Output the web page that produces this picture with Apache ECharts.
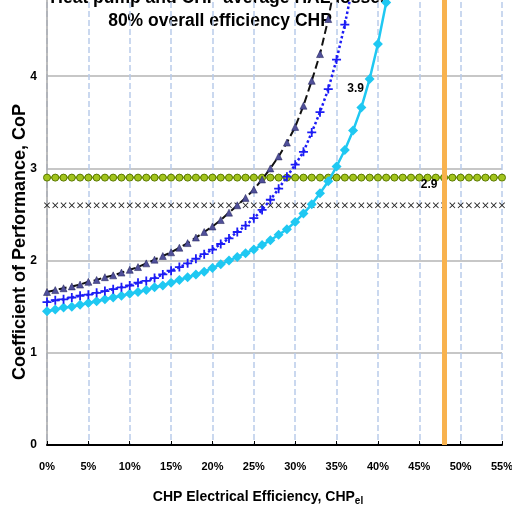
<!DOCTYPE html>
<html>
<head>
<meta charset="utf-8">
<script src="https://cdn.jsdelivr.net/npm/echarts@6/dist/echarts.min.js"></script>
<style>
  html, body { margin: 0; padding: 0; background: #fff; }
  #main { width: 512px; height: 512px; }
</style>
</head>
<body>
<div id="main"></div>
<script>
// CHP electrical efficiency, % (1% steps)
var effPct = [0, 1, 2, 3, 4, 5, 6, 7, 8, 9, 10, 11, 12, 13, 14, 15, 16, 17, 18, 19, 20,
  21, 22, 23, 24, 25, 26, 27, 28, 29, 30, 31, 32, 33, 34, 35, 36, 37, 38, 39, 40, 41, 42,
  43, 44, 45, 46, 47, 48, 49, 50, 51, 52, 53, 54, 55];

// CoP curves
var copNavy = [1.66, 1.68, 1.70, 1.72, 1.74, 1.77, 1.79, 1.82, 1.84, 1.87, 1.90, 1.93, 1.97, 2.01,
  2.05, 2.09, 2.14, 2.19, 2.25, 2.31, 2.37, 2.44, 2.52, 2.60, 2.68, 2.77, 2.88, 3.00, 3.13, 3.28,
  3.45, 3.68, 3.95, 4.24, 4.62, 5.10];
var copBlue = [1.55, 1.57, 1.58, 1.60, 1.62, 1.63, 1.65, 1.67, 1.69, 1.71, 1.73, 1.76, 1.78, 1.81,
  1.85, 1.89, 1.93, 1.97, 2.02, 2.07, 2.12, 2.18, 2.24, 2.31, 2.38, 2.46, 2.55, 2.66, 2.78, 2.91,
  3.04, 3.18, 3.39, 3.61, 3.86, 4.18, 4.56, 5.00];
var copCyan = [1.45, 1.47, 1.49, 1.50, 1.52, 1.54, 1.56, 1.58, 1.60, 1.62, 1.64, 1.66, 1.68, 1.71,
  1.73, 1.76, 1.79, 1.82, 1.85, 1.88, 1.92, 1.96, 2.00, 2.04, 2.08, 2.12, 2.17, 2.22, 2.28, 2.34,
  2.42, 2.51, 2.61, 2.73, 2.86, 3.02, 3.20, 3.41, 3.66, 3.97, 4.35, 4.80, 5.30];

// flat reference levels
var copGreen = 2.9;
var copCross = 2.6;
var orangeEff = 48;

function pairs(ys) {
  var res = [];
  for (var i = 0; i < ys.length; i++) res.push([effPct[i], ys[i]]);
  return res;
}
function flat(v) {
  var res = [];
  for (var i = 0; i < effPct.length; i++) res.push([effPct[i], v]);
  return res;
}

var plusPath = 'path://M4,0H6V4H10V6H6V10H4V6H0V4H4Z';
var crossPath = 'path://M0,1L1,0L5,4L9,0L10,1L6,5L10,9L9,10L5,6L1,10L0,9L4,5Z';
var boldFont = '"Liberation Sans", Arial, sans-serif';

var chart = echarts.init(document.getElementById('main'));
var option = {
  animation: false,
  backgroundColor: '#fff',
  textStyle: { fontFamily: boldFont },
  grid: { left: 47, right: 10, top: -16, bottom: 67, outerBoundsMode: 'none', containLabel: false },
  graphic: [
    {
      type: 'text', x: 220, y: -13,
      style: {
        text: 'Heat pump and CHP average HAL losses\n80% overall efficiency CHP',
        fontSize: 17.5, fontWeight: 'bold', fontFamily: boldFont, lineHeight: 23,
        align: 'center', fill: '#000'
      }
    },
    {
      type: 'text', x: 20, y: 242, rotation: Math.PI / 2,
      style: {
        text: 'Coefficient of Performance, CoP',
        fontSize: 18, fontWeight: 'bold', fontFamily: boldFont,
        align: 'center', verticalAlign: 'middle', fill: '#000'
      }
    },
    {
      type: 'text', x: 258, y: 497,
      style: {
        text: '{m|CHP Electrical Efficiency, CHP}{s|el}',
        align: 'center', verticalAlign: 'middle',
        rich: {
          m: { fontSize: 14, fontWeight: 'bold', fontFamily: boldFont, fill: '#000' },
          s: { fontSize: 10, fontWeight: 'bold', fontFamily: boldFont, fill: '#000', padding: [9, 0, 0, 0] }
        }
      }
    }
  ],
  xAxis: {
    type: 'value', min: 0, max: 55, interval: 5,
    axisLine: { lineStyle: { color: '#000', width: 2 } },
    axisTick: { inside: true, length: 4, lineStyle: { color: '#000' } },
    axisLabel: { formatter: '{value}%', fontSize: 11, fontWeight: 'bold', color: '#000', margin: 16 },
    splitLine: { show: true, lineStyle: { color: '#b9cbea', type: 'dashed', width: 1.5 } }
  },
  yAxis: {
    type: 'value', min: 0, max: 5, interval: 1,
    axisLine: { show: true, lineStyle: { color: '#a8a8a8', width: 1.5 } },
    axisTick: { show: false },
    axisLabel: { fontSize: 12, fontWeight: 'bold', color: '#000', margin: 10 },
    splitLine: { show: true, lineStyle: { color: '#b4b4b4', width: 1.5 } }
  },
  series: [
    {
      name: 'level 2.6', type: 'line', data: flat(copCross),
      symbol: crossPath, symbolSize: 6,
      itemStyle: { color: '#222' },
      lineStyle: { width: 0, opacity: 0 },
      z: 3
    },
    {
      name: 'level 2.9', type: 'line', data: flat(copGreen),
      symbol: 'circle', symbolSize: 7,
      itemStyle: { color: '#a2c41c', borderColor: '#5b7a00', borderWidth: 1 },
      lineStyle: { color: '#6d8f0c', width: 2 },
      markLine: {
        silent: true, symbol: 'none', label: { show: false },
        lineStyle: { color: '#f8b24e', width: 5, type: 'solid' },
        data: [{ xAxis: orangeEff }]
      },
      markPoint: {
        symbol: 'circle', symbolSize: 1, itemStyle: { color: 'transparent' },
        label: { show: true, formatter: '{c}', fontSize: 12, fontWeight: 'bold', color: '#000', position: 'inside' },
        data: [
          { coord: [46.2, 2.82], value: '2.9' },
          { coord: [37.3, 3.86], value: '3.9' }
        ]
      },
      z: 4
    },
    {
      name: 'cyan', type: 'line', data: pairs(copCyan), clip: true,
      symbol: 'diamond', symbolSize: 10,
      itemStyle: { color: '#1fc8f2' },
      lineStyle: { color: '#1fc8f2', width: 2.5 },
      z: 5
    },
    {
      name: 'blue', type: 'line', data: pairs(copBlue), clip: true,
      symbol: plusPath, symbolSize: 9,
      itemStyle: { color: '#1c1cf5' },
      lineStyle: { color: '#1c1cf5', width: 2.5, type: 'dotted' },
      z: 6
    },
    {
      name: 'navy', type: 'line', data: pairs(copNavy), clip: true,
      symbol: 'triangle', symbolSize: 7,
      itemStyle: { color: '#50509a', borderColor: '#1c1c55', borderWidth: 0.5 },
      lineStyle: { color: '#111', width: 2, type: 'dashed' },
      z: 7
    }
  ]
};
chart.setOption(option);
</script>
</body>
</html>
